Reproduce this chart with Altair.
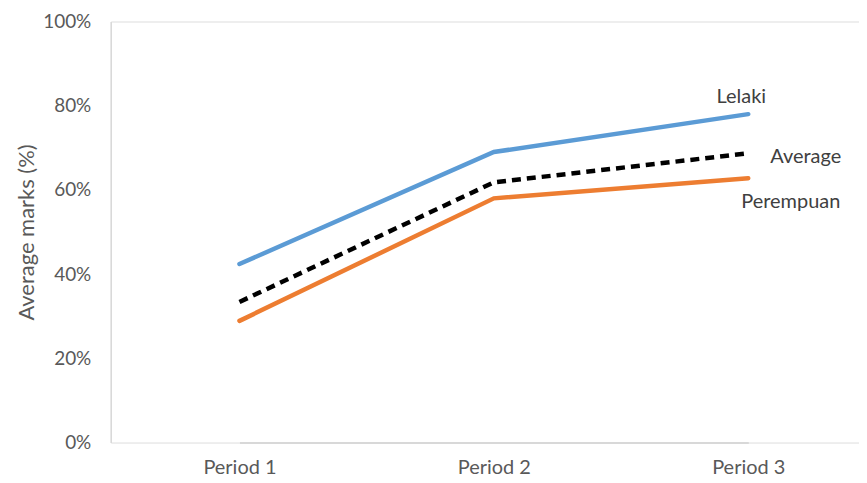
import altair as alt
import pandas as pd

periods = ["Period 1", "Period 2", "Period 3"]
lelaki = [42.4, 69.0, 78.0]
average = [33.4, 61.8, 68.7]
perempuan = [28.9, 58.0, 62.8]
series_names = ["Lelaki", "Average", "Perempuan"]
colors = ["#5B9BD5", "#000000", "#ED7D31"]

rows = []
for name, vals in zip(series_names, [lelaki, average, perempuan]):
    for p, v in zip(periods, vals):
        rows.append({"period": p, "value": v / 100, "series": name})
df = pd.DataFrame(rows)

FONT = "Lato"
x = alt.X("period:N", sort=periods, title=None,
          scale=alt.Scale(type="point", range=[129, 639], padding=0),
          axis=alt.Axis(labelAngle=0, ticks=False, domainColor="#D0D0D0", domainWidth=1.5,
                        labelColor="#595959", labelFontSize=20, labelFont=FONT,
                        labelPadding=15, grid=False))
y = alt.Y("value:Q", title="Average marks (%)",
          scale=alt.Scale(domain=[0, 1], nice=False),
          axis=alt.Axis(format=".0%", values=[0, 0.2, 0.4, 0.6, 0.8, 1.0], ticks=False,
                        domainColor="#D9D9D9", domainWidth=1.5, grid=False,
                        labelColor="#595959", labelFontSize=19, labelFont=FONT,
                        labelPadding=20, titleColor="#595959", titleFontSize=22,
                        titleFont=FONT, titleFontWeight="normal", titlePadding=4))

base = alt.Chart(df)

solid = base.transform_filter(alt.datum.series != "Average").mark_line(strokeWidth=4.5, strokeCap="round").encode(
    x=x, y=y,
    color=alt.Color("series:N", scale=alt.Scale(domain=series_names, range=colors), legend=None))
dashed = base.transform_filter(alt.datum.series == "Average").mark_line(
    strokeWidth=4.5, strokeDash=[9, 6], color="#000000").encode(x=x, y=y)

last = base.transform_filter(alt.datum.period == "Period 3")
lab_l = last.transform_filter(alt.datum.series == "Lelaki").mark_text(
    align="center", dx=-7, dy=-17, fontSize=20, font=FONT, color="#404040").encode(x=x, y=y, text="series:N")
lab_a = last.transform_filter(alt.datum.series == "Average").mark_text(
    align="left", dx=22, dy=4, fontSize=20, font=FONT, color="#404040").encode(x=x, y=y, text="series:N")
lab_p = last.transform_filter(alt.datum.series == "Perempuan").mark_text(
    align="left", dx=-7, dy=24, fontSize=20, font=FONT, color="#404040").encode(x=x, y=y, text="series:N")

chart = alt.layer(solid, dashed, lab_l, lab_a, lab_p).properties(
    width=750, height=422,
    autosize=alt.AutoSizeParams(type="none"),
    padding={"left": 103, "top": 13, "right": 0, "bottom": 38},
).configure_view(stroke=None).configure(background="white")

chart.save("out.html", embed_options={"renderer": "svg", "actions": False})
